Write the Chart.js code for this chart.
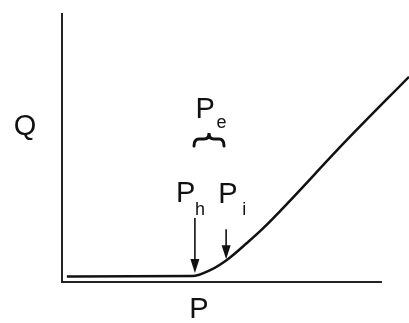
<!DOCTYPE html>
<html>
<head>
<meta charset="utf-8">
<script src="https://cdn.jsdelivr.net/npm/chart.js@4"></script>
<style>
html, body { margin: 0; padding: 0; background: #fff; }
#wrap { width: 409px; height: 323px; }
</style>
</head>
<body>
<div id="wrap"><canvas id="curveChart"></canvas></div>
<script>
// curve, P on x and Q on y (both in 0..100 units)
const pValues = [1.4, 37.5, 42.7, 47.5, 53.2, 58.0, 82.1, 100];
const qValues = [2.0, 2.2, 4.4, 8.2, 14.4, 20.0, 52.8, 76.3];

// P_h and P_i, where the two arrows point
const markNames = ['h', 'i'];
const markP = [38.3, 47.3];
const markQ = [3.3, 8.5];

// x axis line stops short of the right edge
const axisEndP = 92.2;

const points = pValues.map((p, i) => ({ x: p, y: qValues[i] }));

const FONT = '"Liberation Sans", Arial, sans-serif';

const sketchPlugin = {
    id: 'sketch',
    beforeDatasetsDraw(chart) {
        const ctx = chart.ctx;
        const xs = chart.scales.x, ys = chart.scales.y;
        ctx.save();
        ctx.strokeStyle = '#222';
        ctx.lineWidth = 2;
        ctx.beginPath();
        ctx.moveTo(xs.getPixelForValue(0), ys.getPixelForValue(100));
        ctx.lineTo(xs.getPixelForValue(0), ys.getPixelForValue(0));
        ctx.lineTo(xs.getPixelForValue(axisEndP), ys.getPixelForValue(0));
        ctx.stroke();
        ctx.restore();
    },
    afterDraw(chart) {
        const ctx = chart.ctx;
        const xs = chart.scales.x, ys = chart.scales.y;
        const arrowLen = [55, 30];
        const px = markP.map(p => xs.getPixelForValue(p));
        ctx.save();
        ctx.fillStyle = '#111';
        ctx.strokeStyle = '#111';

        // arrows
        markP.forEach((p, i) => {
            const x = px[i];
            const tip = ys.getPixelForValue(markQ[i]);
            ctx.lineWidth = 1.6;
            ctx.beginPath();
            ctx.moveTo(x, tip - arrowLen[i]);
            ctx.lineTo(x, tip - 10);
            ctx.stroke();
            ctx.beginPath();
            ctx.moveTo(x - 4.5, tip - 14);
            ctx.lineTo(x + 4.5, tip - 14);
            ctx.lineTo(x, tip);
            ctx.closePath();
            ctx.fill();
        });

        // labels P_h, P_i
        ctx.textAlign = 'left';
        ctx.textBaseline = 'alphabetic';
        const offs = [[-19, 202, 0, 215], [-8, 203, 16, 215]];
        markNames.forEach((name, i) => {
            const o = offs[i];
            ctx.font = '29px ' + FONT;
            ctx.fillText('P', px[i] + o[0], o[1]);
            ctx.font = '18px ' + FONT;
            ctx.fillText(name, px[i] + o[2], o[3]);
        });

        // P_e with the brace under it
        const mid = (px[0] + px[1]) / 2;
        ctx.font = '29px ' + FONT;
        ctx.fillText('P', mid - 15, 118);
        ctx.font = '18px ' + FONT;
        ctx.fillText('e', mid + 6, 128);

        const bx = mid - 1.5;
        ctx.lineWidth = 3;
        ctx.lineCap = 'round';
        ctx.beginPath();
        ctx.moveTo(bx - 15, 146);
        ctx.quadraticCurveTo(bx - 15, 139, bx - 10, 139);
        ctx.lineTo(bx - 5, 139);
        ctx.quadraticCurveTo(bx, 139, bx, 133);
        ctx.quadraticCurveTo(bx, 139, bx + 5, 139);
        ctx.lineTo(bx + 10, 139);
        ctx.quadraticCurveTo(bx + 15, 139, bx + 15, 146);
        ctx.stroke();

        // axis names
        ctx.font = '29px ' + FONT;
        ctx.textAlign = 'center';
        ctx.fillText('Q', 25, 135);
        ctx.fillText('P', 199, 318);
        ctx.restore();
    }
};

const chart = new Chart(document.getElementById('curveChart'), {
    type: 'scatter',
    data: {
        datasets: [{
            data: points,
            showLine: true,
            borderColor: '#111',
            borderWidth: 2.5,
            pointRadius: 0,
            cubicInterpolationMode: 'monotone'
        }]
    },
    options: {
        responsive: true,
        maintainAspectRatio: false,
        animation: false,
        layout: { padding: { left: 62, right: 0, top: 13, bottom: 41 } },
        scales: {
            x: { type: 'linear', min: 0, max: 100, display: false },
            y: { type: 'linear', min: 0, max: 100, display: false }
        },
        plugins: {
            legend: { display: false },
            tooltip: { enabled: false },
            title: { display: false }
        }
    },
    plugins: [sketchPlugin]
});
</script>
</body>
</html>
